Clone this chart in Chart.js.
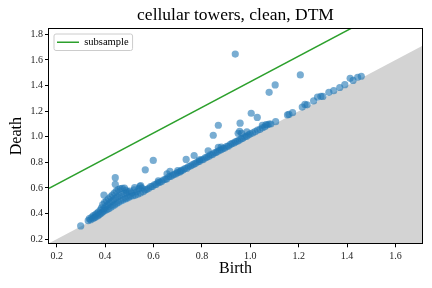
<!DOCTYPE html>
<html>
<head>
<meta charset="utf-8">
<script src="https://cdn.jsdelivr.net/npm/chart.js@4/dist/chart.umd.min.js"></script>
<style>
html,body{margin:0;padding:0;background:#fff;}
#wrap{width:432px;height:288px;position:relative;}
</style>
</head>
<body>
<div id="wrap"><canvas id="c" width="432" height="288"></canvas></div>
<script>
const titleText = "cellular towers, clean, DTM";
const xLabel = "Birth";
const yLabel = "Death";
const legendLabel = "subsample";
const xLimits = [0.168, 1.71];
const yLimits = [0.168, 1.842];
const xTicks = [0.2, 0.4, 0.6, 0.8, 1.0, 1.2, 1.4, 1.6];
const yTicks = [0.2, 0.4, 0.6, 0.8, 1.0, 1.2, 1.4, 1.6, 1.8];
const diagonalX = [0.168, 1.71];
const diagonalY = [0.168, 1.71];
const subsampleX = [0.168, 1.71];
const subsampleY = [0.598, 2.14];

const births = [
  0.299,0.330,0.335,0.340,0.345,0.350,0.352,0.356,0.360,0.362,0.366,0.370,0.372,0.376,0.380,0.382,0.385,0.388,0.390,0.393,
  0.395,0.396,0.398,0.400,0.403,0.406,0.408,0.411,0.414,0.416,0.419,0.422,0.424,0.427,0.430,0.432,0.435,0.438,0.440,0.442,
  0.442,0.443,0.446,0.448,0.451,0.454,0.456,0.459,0.462,0.465,0.468,0.471,0.474,0.477,0.480,0.483,0.486,0.487,0.490,0.494,
  0.498,0.502,0.506,0.510,0.515,0.520,0.522,0.525,0.530,0.535,0.540,0.544,0.546,0.547,0.552,0.558,0.565,0.566,0.572,0.580,
  0.588,0.595,0.599,0.603,0.610,0.618,0.620,0.625,0.633,0.640,0.648,0.655,0.656,0.663,0.668,0.670,0.678,0.685,0.693,0.700,
  0.700,0.708,0.713,0.715,0.723,0.730,0.735,0.738,0.745,0.753,0.760,0.768,0.768,0.775,0.783,0.790,0.790,0.798,0.805,0.813,
  0.820,0.826,0.828,0.835,0.843,0.847,0.850,0.858,0.865,0.868,0.868,0.873,0.880,0.880,0.888,0.895,0.903,0.910,0.918,0.925,
  0.933,0.938,0.940,0.948,0.950,0.955,0.956,0.958,0.963,0.964,0.970,0.978,0.985,0.986,0.993,1.000,1.004,1.010,1.020,1.029,
  1.030,1.040,1.050,1.050,1.060,1.065,1.070,1.078,1.078,1.085,1.103,1.105,1.154,1.160,1.175,1.207,1.215,1.226,1.235,1.262,
  1.278,1.292,1.300,1.325,1.345,1.370,1.391,1.413,1.425,1.444,1.459
];
const deaths = [
  0.304,0.345,0.360,0.352,0.372,0.361,0.385,0.370,0.392,0.375,0.401,0.384,0.412,0.392,0.428,0.400,0.445,0.410,0.470,0.418,
  0.545,0.440,0.488,0.425,0.455,0.500,0.432,0.468,0.515,0.440,0.482,0.530,0.450,0.495,0.545,0.460,0.508,0.560,0.470,0.681,
  0.629,0.520,0.575,0.478,0.530,0.588,0.488,0.540,0.595,0.498,0.548,0.598,0.506,0.556,0.600,0.515,0.582,0.562,0.520,0.570,
  0.528,0.575,0.535,0.560,0.540,0.585,0.603,0.545,0.570,0.552,0.595,0.613,0.560,0.618,0.600,0.572,0.585,0.742,0.590,0.598,
  0.610,0.612,0.815,0.625,0.628,0.640,0.655,0.645,0.650,0.662,0.668,0.672,0.710,0.688,0.731,0.690,0.700,0.705,0.712,0.722,
  0.735,0.725,0.731,0.738,0.742,0.752,0.823,0.755,0.768,0.772,0.780,0.788,0.854,0.795,0.805,0.808,0.820,0.820,0.822,0.835,
  0.840,0.891,0.846,0.858,0.860,1.012,0.872,0.878,0.885,0.917,1.090,0.895,0.898,0.920,0.910,0.912,0.925,0.928,0.940,0.948,
  0.952,1.646,0.962,0.968,1.027,0.975,1.043,1.106,0.985,1.027,0.990,1.000,1.005,1.038,1.015,1.022,1.184,1.030,1.040,1.151,
  1.052,1.058,1.070,1.090,1.078,1.095,1.092,1.100,1.347,1.100,1.405,1.118,1.171,1.175,1.188,1.483,1.232,1.253,1.250,1.280,
  1.310,1.316,1.315,1.347,1.360,1.385,1.407,1.457,1.440,1.465,1.473
];

const points = births.map((b, i) => ({x: b, y: deaths[i]}));

const legendFrame = {
  id: 'legendFrame',
  afterLayout(chart) {
    const lg = chart.legend, ca = chart.chartArea;
    if (!lg) return;
    lg.left = ca.left; lg.top = ca.top; lg.right = ca.right; lg.bottom = ca.bottom;
    lg.width = ca.right - ca.left; lg.height = ca.bottom - ca.top;
  },
  beforeDraw(chart) {
    const lg = chart.legend;
    if (!lg || !lg.legendHitBoxes || !lg.legendHitBoxes.length) return;
    const hb = lg.legendHitBoxes[0];
    const ctx = chart.ctx;
    const x = hb.left - 3, y = hb.top - 3, w = hb.width + 7, h = hb.height + 6, r = 2;
    ctx.save();
    ctx.beginPath();
    ctx.moveTo(x + r, y);
    ctx.arcTo(x + w, y, x + w, y + h, r);
    ctx.arcTo(x + w, y + h, x, y + h, r);
    ctx.arcTo(x, y + h, x, y, r);
    ctx.arcTo(x, y, x + w, y, r);
    ctx.closePath();
    ctx.fillStyle = 'rgba(255,255,255,0.8)';
    ctx.fill();
    ctx.strokeStyle = '#cccccc';
    ctx.lineWidth = 1;
    ctx.stroke();
    ctx.restore();
  },
  afterDatasetsDraw(chart) {
    const ca = chart.chartArea, ctx = chart.ctx;
    ctx.save();
    ctx.strokeStyle = '#000';
    ctx.lineWidth = 1;
    ctx.strokeRect(Math.round(ca.left) - 0.5, Math.round(ca.top) - 0.5, Math.round(ca.right - ca.left) + 1, Math.round(ca.bottom - ca.top) + 1);
    ctx.restore();
  }
};

const serif = "'Liberation Serif', 'DejaVu Serif', serif";

new Chart(document.getElementById('c'), {
  data: {
    datasets: [
      {
        type: 'line',
        label: 'diagonal',
        data: diagonalX.map((x, i) => ({x: x, y: diagonalY[i]})),
        borderWidth: 0,
        borderColor: 'rgba(0,0,0,0)',
        backgroundColor: '#d3d3d3',
        fill: 'start',
        pointRadius: 0,
        order: 3
      },
      {
        type: 'line',
        label: legendLabel,
        data: subsampleX.map((x, i) => ({x: x, y: subsampleY[i]})),
        borderColor: '#2ca02c',
        backgroundColor: '#2ca02c',
        borderWidth: 1.5,
        fill: false,
        pointRadius: 0,
        order: 2
      },
      {
        type: 'scatter',
        label: 'points',
        data: points,
        backgroundColor: 'rgba(31,119,180,0.6)',
        borderWidth: 0,
        pointRadius: 3.6,
        order: 1
      }
    ]
  },
  options: {
    responsive: false,
    animation: false,
    devicePixelRatio: 1,
    layout: { padding: { left: 0, right: 10, top: 0, bottom: 0 } },
    plugins: {
      tooltip: { enabled: false },
      title: {
        display: true,
        fullSize: false,
        text: titleText,
        color: '#000',
        font: { family: serif, size: 17.5, weight: 'normal' },
        padding: { top: 5, bottom: 3 }
      },
      legend: {
        display: true,
        position: 'chartArea',
        align: 'start',
        labels: {
          filter: (item) => item.text === legendLabel,
          usePointStyle: true,
          pointStyle: 'line',
          pointStyleWidth: 22,
          padding: 8,
          color: '#000',
          font: { family: serif, size: 10.5 }
        }
      }
    },
    scales: {
      x: {
        type: 'linear',
        min: xLimits[0],
        max: xLimits[1],
        afterBuildTicks: (s) => { s.ticks = xTicks.map(v => ({value: v})); },
        afterFit: (s) => { s.height = 44.7; },
        ticks: {
          color: '#222',
          font: { family: serif, size: 10 },
          padding: 3,
          callback: (v) => v.toFixed(1)
        },
        grid: { display: true, drawOnChartArea: false, drawTicks: true, tickLength: 4, color: '#000' },
        border: { display: false },
        title: {
          display: true,
          text: xLabel,
          color: '#000',
          font: { family: serif, size: 16 },
          padding: { top: 0, bottom: 10 }
        }
      },
      y: {
        type: 'linear',
        min: yLimits[0],
        max: yLimits[1],
        afterBuildTicks: (s) => { s.ticks = yTicks.map(v => ({value: v})); },
        afterFit: (s) => { s.width = 49; },
        ticks: {
          color: '#222',
          font: { family: serif, size: 10 },
          padding: 2,
          callback: (v) => v.toFixed(1)
        },
        grid: { display: true, drawOnChartArea: false, drawTicks: true, tickLength: 4, color: '#000' },
        border: { display: false },
        title: {
          display: true,
          text: yLabel,
          color: '#000',
          font: { family: serif, size: 16 },
          padding: { top: 7, bottom: 0 }
        }
      }
    }
  },
  plugins: [legendFrame]
});
</script>
</body>
</html>
